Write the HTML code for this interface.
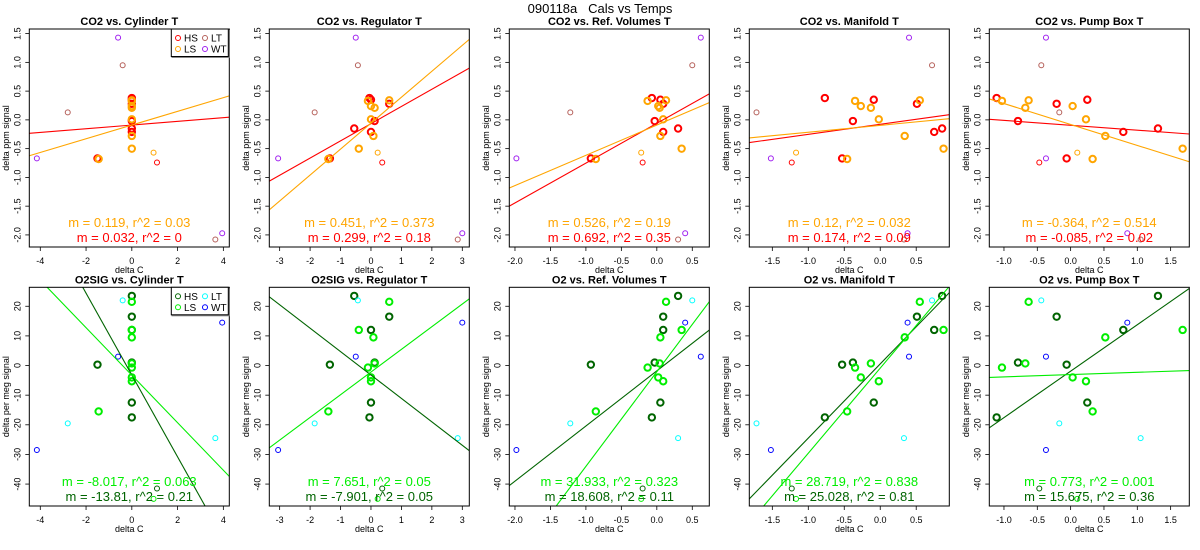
<!DOCTYPE html>
<html><head><meta charset="utf-8"><style>
html,body{margin:0;padding:0;background:#fff;}
svg{display:block;font-family:"Liberation Sans",Arial,sans-serif;}
</style></head><body>
<svg id="chart" width="1200" height="550" viewBox="0 0 1200 550">
<text x="600" y="13" text-anchor="middle" font-size="13">090118a&#160;&#160;&#160;Cals vs Temps</text>
</svg>
<script>
// ---- data ----
const co2HS = [0.38,0.35,0.28,-0.02,-0.15,-0.21,-0.67];
const co2LS = [0.33,0.34,0.24,0.21,0.01,-0.28,-0.5,-0.68];
const o2HS = [-17.5,-12.5,16.5,1,23.5,12,0.3];
const o2LS = [-0.7,21.5,-4,0.7,-5.3,9.5,12,-15.5];
const co2HS2 = [-0.74], o2HS2 = [-41.5];
const co2LS2 = [-0.57], o2LS2 = [-45];
const co2LT = [0.13,0.95,-2.08], o2LT = [-19.5,22,-24.5];
const co2WT = [1.43,-0.67,-1.97], o2WT = [3,-28.5,14.5];

const tempNames = ["Cylinder T","Regulator T","Ref. Volumes T","Manifold T","Pump Box T"];
const xHS = [[0,0,0,0,0,0,-1.5],[-0.05,0,0.6,0.12,-0.55,0,-1.35],[-0.07,0.05,0.09,-0.03,0.3,0.09,-0.93],[-0.77,-0.09,0.51,-0.38,0.86,0.75,-0.53],[-1.11,0.25,-0.21,-0.79,1.31,0.79,-0.06]];
const xLS = [[0,0,0,0,0,0,0,-1.45],[-0.1,0.6,0,0.12,0,0.08,-0.4,-1.4],[-0.13,0.13,0.02,0.04,0.09,0.05,0.35,-0.86],[-0.35,0.55,-0.27,-0.13,-0.02,0.34,0.88,-0.46],[-1.03,-0.63,0.03,-0.68,0.23,0.52,1.68,0.33]];
const xHS2 = [[1.1],[0.37],[-0.2],[-1.23],[-0.47]];
const xLS2 = [[0.95],[0.22],[-0.22],[-1.17],[0.1]];
const xLT = [[-2.8,-0.4,3.65],[-1.85,-0.43,2.85],[-1.22,0.5,0.3],[-1.72,0.72,0.33],[-0.17,-0.44,1.05]];
const xWT = [[-0.6,-4.15,3.95],[-0.5,-3.05,3.0],[0.62,-1.98,0.4],[0.4,-1.52,0.38],[-0.37,-0.37,0.85]];

const xlims = [[-4.48,4.26],[-3.34,3.23],[-2.08,0.74],[-1.82,0.96],[-1.22,1.78]];
const xTicks = [[-4,-2,0,2,4],[-3,-2,-1,0,1,2,3],[-2,-1.5,-1,-0.5,0,0.5],[-1.5,-1,-0.5,0,0.5],[-1,-0.5,0,0.5,1,1.5]];
const xTickLabels = [["-4","-2","0","2","4"],["-3","-2","-1","0","1","2","3"],["-2.0","-1.5","-1.0","-0.5","0.0","0.5"],["-1.5","-1.0","-0.5","0.0","0.5"],["-1.0","-0.5","0.0","0.5","1.0","1.5"]];

const co2Ylim = [-2.21,1.58];
const co2YTicks = [-2,-1.5,-1,-0.5,0,0.5,1,1.5];
const co2YTickLabels = ["-2.0","-1.5","-1.0","-0.5","0.0","0.5","1.0","1.5"];
const o2Ylim = [-47.4,26.4];
const o2YTicks = [-40,-30,-20,-10,0,10,20];
const o2YTickLabels = ["-40","-30","-20","-10","0","10","20"];

const co2HSslope = [0.032,0.299,0.692,0.174,-0.085];
const co2HSint = [-0.09,-0.066,-0.06,-0.077,-0.094];
const co2LSslope = [0.119,0.451,0.526,0.12,-0.364];
const co2LSint = [-0.09,-0.057,-0.09,-0.095,-0.08];
const o2HSslope = [-13.81,-7.901,18.608,25.028,15.675];
const o2HSint = [-3.2,-3.2,-1.8,0.55,-1.9];
const o2LSslope = [-8.017,7.651,31.933,28.719,0.773];
const o2LSint = [-3.26,-2.2,-2.1,-0.87,-3.06];
const co2HStxt = ["m = 0.032, r^2 = 0","m = 0.299, r^2 = 0.18","m = 0.692, r^2 = 0.35","m = 0.174, r^2 = 0.09","m = -0.085, r^2 = 0.02"];
const co2LStxt = ["m = 0.119, r^2 = 0.03","m = 0.451, r^2 = 0.373","m = 0.526, r^2 = 0.19","m = 0.12, r^2 = 0.032","m = -0.364, r^2 = 0.514"];
const o2HStxt = ["m = -13.81, r^2 = 0.21","m = -7.901, r^2 = 0.05","m = 18.608, r^2 = 0.11","m = 25.028, r^2 = 0.81","m = 15.675, r^2 = 0.36"];
const o2LStxt = ["m = -8.017, r^2 = 0.063","m = 7.651, r^2 = 0.05","m = 31.933, r^2 = 0.323","m = 28.719, r^2 = 0.838","m = 0.773, r^2 = 0.001"];

const svg = document.getElementById('chart');
const NS = 'http://www.w3.org/2000/svg';
function mk(tag, attrs, parent){
  const e = document.createElementNS(NS, tag);
  for (const k in attrs) e.setAttribute(k, attrs[k]);
  (parent||svg).appendChild(e);
  return e;
}

function panel(col, row){
  const ox = col*240;
  const L = ox+29.3, R = ox+229.3;
  const T = row===0 ? 29 : 287.3, B = row===0 ? 247 : 506;
  const xl = xlims[col], yl = row===0 ? co2Ylim : o2Ylim;
  const sx = v => L + (v-xl[0])/(xl[1]-xl[0])*(R-L);
  const sy = v => B - (v-yl[0])/(yl[1]-yl[0])*(B-T);
  const g = mk('g', {});
  
  
  const clipId = 'c'+row+col;
  const cp = mk('clipPath', {id:clipId}, g);
  mk('rect', {x:L,y:T,width:R-L,height:B-T}, cp);

  const title = row===0 ? 'CO2 vs. '+tempNames[col] : ((col<2?'O2SIG vs. ':'O2 vs. ')+tempNames[col]);
  const t = mk('text', {x:(L+R)/2, y:T-4, 'text-anchor':'middle','font-size':11,'font-weight':'bold'}, g);
  t.textContent = title;
  
  

  const xa = mk('g', {}, g);
  
  
  xTicks[col].forEach((v,i)=>{
    const x = sx(v);
    mk('line', {x1:x,x2:x,y1:B,y2:B+4,stroke:'#000','stroke-width':0.8}, xa);
    const tl = mk('text', {x:x, y:B+17, 'text-anchor':'middle','font-size':9}, xa);
    tl.textContent = xTickLabels[col][i];
  });
  const xlab = mk('text', {x:(L+R)/2, y:B+26, 'text-anchor':'middle','font-size':9}, xa);
  xlab.textContent = 'delta C';
  
  

  const ya = mk('g', {}, g);
  
  
  const yt = row===0 ? co2YTicks : o2YTicks, ytl = row===0 ? co2YTickLabels : o2YTickLabels;
  yt.forEach((v,i)=>{
    const y = sy(v);
    mk('line', {x1:L-4,x2:L,y1:y,y2:y,stroke:'#000','stroke-width':0.8}, ya);
    const tl = mk('text', {x:0,y:0,'text-anchor':'middle','font-size':9,transform:`translate(${L-9},${y}) rotate(-90)`}, ya);
    tl.textContent = ytl[i];
  });
  const ylab = mk('text', {x:0,y:0,'text-anchor':'middle','font-size':9,transform:`translate(${ox+9},${(T+B)/2}) rotate(-90)`}, ya);
  ylab.textContent = row===0 ? 'delta ppm signal' : 'delta per meg signal';
  
  

  const cHS = row===0 ? '#ff0000' : '#006400';
  const cLS = row===0 ? '#ffa500' : '#00ee00';
  const cLT = row===0 ? '#b5605a' : '#00ffff';
  const cWT = row===0 ? '#a020f0' : '#0000ff';

  const pg = mk('g', {'clip-path':`url(#${clipId})`}, g);
  function pts(xs, ys, color, thick, name){
    xs.forEach((xv,i)=>{
      const c = mk('circle', {cx:sx(xv), cy:sy(ys[i]), r: thick?3.2:2.5, fill:'none', stroke:color, 'stroke-width': thick?2:1}, pg);
      
      
    });
  }
  pts(xHS[col], row===0?co2HS:o2HS, cHS, true, 'point-hs');
  pts(xLS[col], row===0?co2LS:o2LS, cLS, true, 'point-ls');
  pts(xHS2[col], row===0?co2HS2:o2HS2, cHS, false, 'point-hs-thin');
  pts(xLS2[col], row===0?co2LS2:o2LS2, cLS, false, 'point-ls-thin');
  pts(xLT[col], row===0?co2LT:o2LT, cLT, false, 'point-lt');
  pts(xWT[col], row===0?co2WT:o2WT, cWT, false, 'point-wt');

  function fit(m, b, color, name){
    const l = mk('line', {x1:sx(xl[0]), y1:sy(m*xl[0]+b), x2:sx(xl[1]), y2:sy(m*xl[1]+b), stroke:color, 'stroke-width':1.1}, pg);
    
    
  }
  if (row===0){
    fit(co2HSslope[col], co2HSint[col], cHS, 'fit-line-hs');
    fit(co2LSslope[col], co2LSint[col], cLS, 'fit-line-ls');
  } else {
    fit(o2HSslope[col], o2HSint[col], cHS, 'fit-line-hs');
    fit(o2LSslope[col], o2LSint[col], cLS, 'fit-line-ls');
  }

  const s1 = mk('text', {x:(L+R)/2, y:B-20, 'text-anchor':'middle','font-size':13, fill:cLS}, g);
  s1.textContent = row===0 ? co2LStxt[col] : o2LStxt[col];
  
  
  const s2 = mk('text', {x:(L+R)/2, y:B-5, 'text-anchor':'middle','font-size':13, fill:cHS}, g);
  s2.textContent = row===0 ? co2HStxt[col] : o2HStxt[col];
  
  

  mk('rect', {x:L,y:T,width:R-L,height:B-T,fill:'none',stroke:'#000','stroke-width':1}, g);

  if (col===0){
    const lg = mk('g', {}, g);
    
    
    mk('rect', {x:ox+171.5,y:T+1,width:58,height:28,fill:'#888'}, lg);
    mk('rect', {x:ox+171.3,y:T,width:57,height:27.5,fill:'#fff',stroke:'#000','stroke-width':1}, lg);
    const items = [['HS',cHS,0,0],['LS',cLS,0,1],['LT',cLT,1,0],['WT',cWT,1,1]];
    items.forEach(it=>{
      const ex = ox+178 + it[2]*27, ey = T+9 + it[3]*11;
      const ent = mk('g', {}, lg);
      
      
      mk('circle', {cx:ex, cy:ey, r:2.5, fill:'none', stroke:it[1], 'stroke-width':1}, ent);
      const tx = mk('text', {x:ex+6, y:ey+3.5, 'font-size':10}, ent);
      tx.textContent = it[0];
    });
  }
}
for (let r=0;r<2;r++) for (let c=0;c<5;c++) panel(c,r);
</script>
</body></html>
